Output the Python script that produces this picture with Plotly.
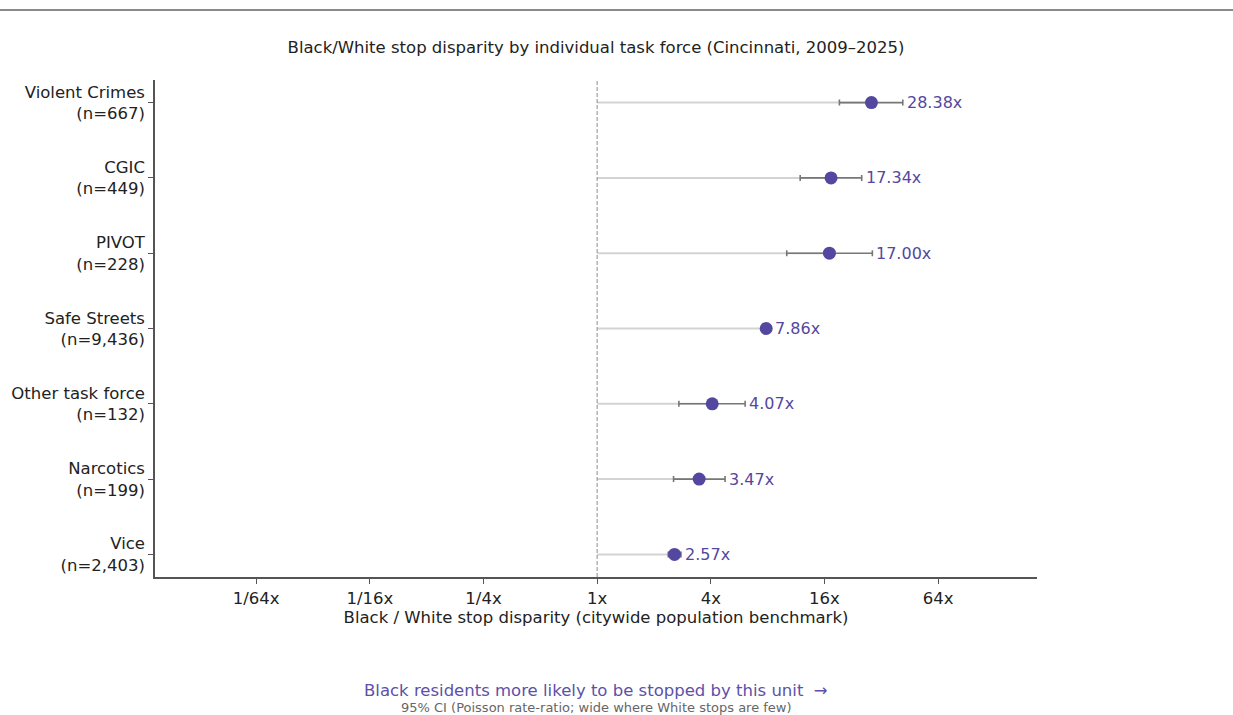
import numpy as np
import plotly.graph_objects as go

# Task forces, bottom to top on the chart
units = ["Vice", "Narcotics", "Other task force", "Safe Streets", "PIVOT", "CGIC", "Violent Crimes"]
counts = ["2,403", "199", "132", "9,436", "228", "449", "667"]
ratio = [2.57, 3.47, 4.07, 7.86, 17.00, 17.34, 28.38]
ci_low = [2.38, 2.54, 2.71, 7.45, 10.1, 11.9, 19.2]
ci_high = [2.78, 4.76, 6.08, 8.35, 28.7, 25.2, 41.6]

tick_vals = [1 / 64, 1 / 16, 1 / 4, 1, 4, 16, 64]
tick_text = ["1/64x", "1/16x", "1/4x", "1x", "4x", "16x", "64x"]

PURPLE = "#54479f"
FONT = "DejaVu Sans"
FS = 16.5

y_pos = list(range(len(units)))
y_labels = [f"{u}<br>(n={c})" for u, c in zip(units, counts)]

fig = go.Figure()

# light stems from parity (1x) to each estimate
stem_x, stem_y = [], []
for y, r in zip(y_pos, ratio):
    stem_x += [1, r, None]
    stem_y += [y, y, None]
fig.add_trace(go.Scatter(x=stem_x, y=stem_y, mode="lines",
                         line=dict(color="#d3d3d3", width=2),
                         hoverinfo="skip", showlegend=False))

# 95% confidence intervals
fig.add_trace(go.Scatter(
    x=ratio, y=y_pos, mode="markers",
    marker=dict(size=0.1, color="rgba(0,0,0,0)"),
    error_x=dict(type="data", symmetric=False,
                 array=[h - r for h, r in zip(ci_high, ratio)],
                 arrayminus=[r - l for r, l in zip(ratio, ci_low)],
                 color="#777777", thickness=1.6, width=3),
    hoverinfo="skip", showlegend=False))

# point estimates
fig.add_trace(go.Scatter(x=ratio, y=y_pos, mode="markers",
                         marker=dict(size=13, color=PURPLE),
                         showlegend=False))

# value labels to the right of each interval
for y, r, h in zip(y_pos, ratio, ci_high):
    fig.add_annotation(x=np.log10(max(h, r)), y=y, text=f"{r:.2f}x",
                       showarrow=False, xanchor="left", xshift=2,
                       font=dict(family=FONT, size=16, color=PURPLE))

# parity reference line
fig.add_shape(type="line", xref="x", yref="paper", x0=1, x1=1, y0=0, y1=1,
              line=dict(color="#8c8c8c", width=1, dash="4px,2px"))

# rule across the top of the page
top_y = (715 - 138 - 10) / 497
fig.add_shape(type="line", xref="paper", yref="paper",
              x0=-155 / 882, x1=(1233 - 155) / 882, y0=top_y, y1=top_y,
              line=dict(color="#8a8a8a", width=2))

fig.add_annotation(xref="paper", yref="paper", x=0.5, y=-0.228, yanchor="middle",
                   text="Black residents more likely to be stopped by this unit  →",
                   showarrow=False, font=dict(family=FONT, size=FS, color="#5c50a8"))
fig.add_annotation(xref="paper", yref="paper", x=0.5, y=-0.262, yanchor="middle",
                   text="95% CI (Poisson rate-ratio; wide where White stops are few)",
                   showarrow=False, font=dict(family=FONT, size=13, color="#666666"))

log2 = np.log10(2)
fig.update_layout(
    width=1233, height=715,
    margin=dict(l=155, r=196, t=80, b=138),
    paper_bgcolor="white", plot_bgcolor="white",
    font=dict(family=FONT, size=FS, color="#222222"),
    title=dict(text="Black/White stop disparity by individual task force (Cincinnati, 2009–2025)",
               x=(155 + 441) / 1233, xanchor="center", y=1 - 47 / 715, yanchor="middle",
               font=dict(family=FONT, size=FS, color="#222222")),
    xaxis=dict(type="log", range=[-7.78 * log2, 7.74 * log2],
               tickvals=tick_vals, ticktext=tick_text,
               showgrid=False, zeroline=False,
               showline=True, linecolor="#555555", linewidth=1.5,
               ticks="outside", ticklen=5, tickcolor="#555555",
               tickfont=dict(family=FONT, size=FS, color="#222222"),
               title=dict(text="Black / White stop disparity (citywide population benchmark)",
                          font=dict(family=FONT, size=FS, color="#222222"), standoff=4)),
    yaxis=dict(range=[-0.3, 6.3], tickvals=y_pos, ticktext=y_labels,
               showgrid=False, zeroline=False,
               showline=True, linecolor="#555555", linewidth=1.5,
               ticks="outside", ticklen=5, tickcolor="#555555",
               tickfont=dict(family=FONT, size=FS, color="#222222")),
)

fig.write_html("out.html")
